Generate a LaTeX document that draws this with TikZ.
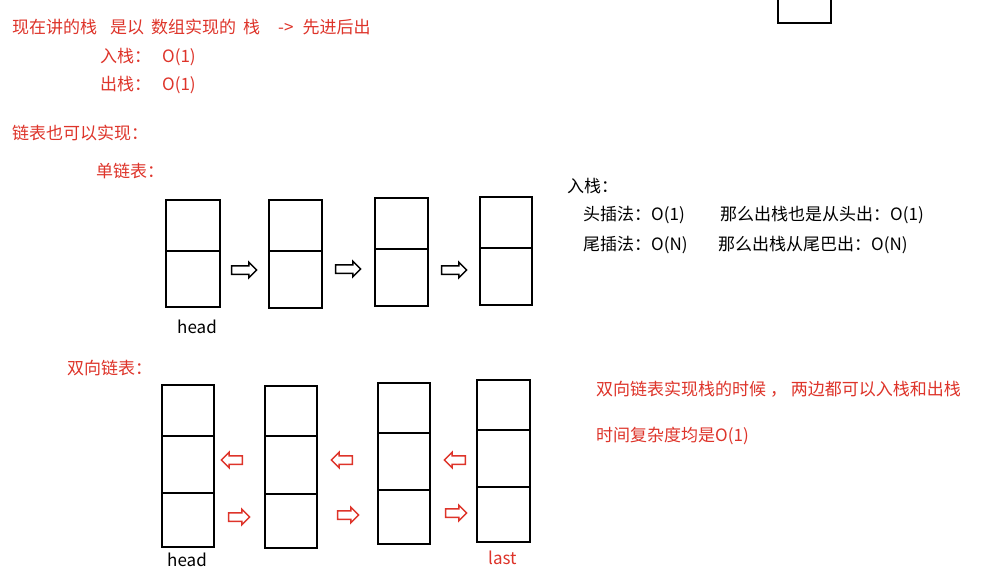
\documentclass[tikz,border=0pt]{standalone}
\usepackage{fontspec}
\setmainfont{Noto Sans CJK SC}
\usetikzlibrary{shapes.arrows}
\definecolor{notered}{RGB}{222,52,42}
\tikzset{
  cell/.style={line width=2pt},
  txt/.style={anchor=base west, inner sep=0pt, font=\fontsize{17}{20}\selectfont},
  fwd/.style={single arrow, draw, line width=1.5pt, inner xsep=0pt, inner ysep=3.5pt,
    single arrow head extend=3.5pt, minimum height=25pt},
  dblarr/.style={fwd, draw=notered, minimum height=21pt},
}
\begin{document}
\begin{tikzpicture}[x=1pt,y=-1pt]
    \useasboundingbox[fill=white] (0,0) rectangle (981,577);
    % top lines
    \node[txt, notered] (l1) at (12,34) {现在讲的栈\hspace{13pt}是以\hspace{7pt}数组实现的\hspace{7pt}栈\hspace{18pt}->\hspace{9pt}先进后出};
    \node[txt, notered] (push) at (100,63) {入栈：\hspace{11pt}O(1)};
    \node[txt, notered] (pop) at (100,91) {出栈：\hspace{11pt}O(1)};
    \node[txt, notered] (ll) at (12,140) {链表也可以实现：};
    \node[txt, notered] (sll) at (96,178) {单链表：};
    % right notes
    \node[txt] (rpush) at (567,193) {入栈：};
    \node[txt] (hins) at (583,221) {头插法：O(1)};
    \node[txt] (hout) at (720,221) {那么出栈也是从头出：O(1)};
    \node[txt] (tins) at (583,250) {尾插法：O(N)};
    \node[txt] (tout) at (718,250) {那么出栈从尾巴出：O(N)};
    \node[txt, notered] (dll) at (67,374) {双向链表：};
    \node[txt, notered] (dnote) at (596,395) {双向链表实现栈的时候 ， 两边都可以入栈和出栈};
    \node[txt, notered] (dtime) at (596,441) {时间复杂度均是O(1)};
    % corner box
    \draw[cell] (778,-2) -- (778,23) -- (831,23) -- (831,-2);
    % single list
    \draw[cell] (166,200) rectangle (220,307); \draw[cell] (166,251) -- (220,251);
    \draw[cell] (269,200) rectangle (322,308); \draw[cell] (269,251) -- (322,251);
    \draw[cell] (375,198) rectangle (428,306); \draw[cell] (375,249) -- (428,249);
    \draw[cell] (480,197) rectangle (532,305); \draw[cell] (480,248) -- (532,248);
    \node[fwd] (s1) at (242,270) {};
    \node[fwd] (s2) at (346,269) {};
    \node[fwd] (s3) at (452,270) {};
    \node[txt] (shead) at (177,333) {head};
    % double list
    \draw[cell] (162,385) rectangle (214,547); \draw[cell] (162,436) -- (214,436); \draw[cell] (162,493) -- (214,493);
    \draw[cell] (265,386) rectangle (317,548); \draw[cell] (265,436) -- (317,436); \draw[cell] (265,494) -- (317,494);
    \draw[cell] (378,383) rectangle (430,544); \draw[cell] (378,433) -- (430,433); \draw[cell] (378,490) -- (430,490);
    \draw[cell] (477,380) rectangle (530,542); \draw[cell] (477,430) -- (530,430); \draw[cell] (477,487) -- (530,487);
    \node[dblarr, shape border rotate=180] (b1) at (234,460) {};
    \node[dblarr, shape border rotate=180] (b2) at (344,460) {};
    \node[dblarr, shape border rotate=180] (b3) at (457,460) {};
    \node[dblarr] (f1) at (237,517) {};
    \node[dblarr] (f2) at (346,515) {};
    \node[dblarr] (f3) at (454,513) {};
    \node[txt] (dhead) at (167,566) {head};
    \node[txt, notered] (dlast) at (488,564) {last};
\end{tikzpicture}
\end{document}
